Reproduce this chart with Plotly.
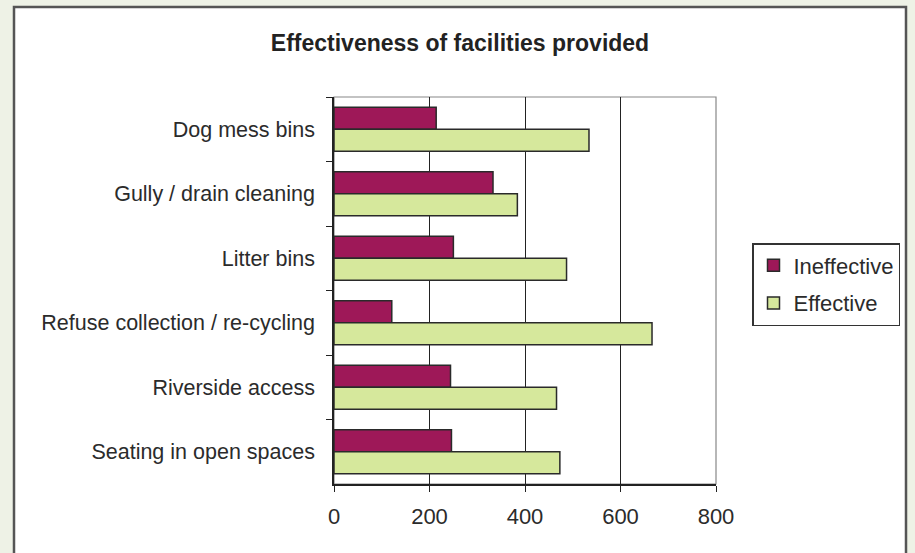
import plotly.graph_objects as go

categories = ["Dog mess bins", "Gully / drain cleaning", "Litter bins",
              "Refuse collection / re-cycling", "Riverside access", "Seating in open spaces"]
ineffective = [214, 333, 250, 121, 244, 246]
effective = [534, 384, 487, 666, 466, 473]
x_ticks = [0, 200, 400, 600, 800]

FONT = "Liberation Sans, Arial, sans-serif"
L, R, T, B = 334, 716, 97, 484  # plot area in page pixels
PW, PH = R - L, B - T

fig = go.Figure()
fig.add_trace(go.Bar(
    y=categories, x=ineffective, orientation="h", name="Ineffective",
    marker=dict(color="#9E1858", line=dict(color="#2a2a2a", width=1.5)),
    legendgroup="a"))
fig.add_trace(go.Bar(
    y=categories, x=effective, orientation="h", name="Effective",
    marker=dict(color="#D6E89C", line=dict(color="#2a2a2a", width=1.5)),
    legendgroup="b"))

# outer chart border
fig.add_shape(type="rect", xref="paper", yref="paper",
              x0=(14 - L) / PW, x1=(906 - L) / PW,
              y0=(B - 565) / PH, y1=(B - 7) / PH,
              line=dict(color="#555555", width=2.5), fillcolor="white", layer="below")
# plot area border
fig.add_shape(type="rect", xref="paper", yref="paper", x0=0, x1=1, y0=0, y1=1,
              line=dict(color="#888888", width=1.2), layer="below")

fig.update_layout(
    width=915, height=553,
    margin=dict(l=L, r=915 - R, t=T, b=553 - B),
    paper_bgcolor="#EEF2E6", plot_bgcolor="white",
    barmode="group", bargap=0.32, bargroupgap=0,
    font=dict(family=FONT, size=21.5, color="#2b2b2b"),
    title=dict(text="<b>Effectiveness of facilities provided</b>",
               x=460 / 915, xanchor="center", y=1 - 43 / 553, yanchor="middle",
               font=dict(family=FONT, size=23, color="#222")),
    showlegend=True,
    legend=dict(x=(752 - L) / PW, y=(B - 243) / PH, xanchor="left", yanchor="top",
                bordercolor="#333", borderwidth=1.5, bgcolor="white",
                font=dict(size=22, color="#2b2b2b"), tracegroupgap=6,
                traceorder="grouped"),
    xaxis=dict(range=[0, 800], tickvals=x_ticks, ticktext=[str(v) for v in x_ticks],
               showgrid=True, gridcolor="#222", gridwidth=1.2,
               showline=True, linecolor="#222", linewidth=1.5,
               ticks="outside", ticklen=6, tickcolor="#222",
               zeroline=False, ticklabelstandoff=6, tickfont=dict(size=22)),
    yaxis=dict(autorange="reversed", type="category",
               showline=True, linecolor="#222", linewidth=1.5,
               ticks="outside", ticklen=6, tickcolor="#222", tickson="boundaries",
               showgrid=False, ticklabelstandoff=13),
)

fig.write_html("out.html", config={"displayModeBar": False},
               post_script="document.body.style.margin='0';document.body.style.background='#EEF2E6';")
